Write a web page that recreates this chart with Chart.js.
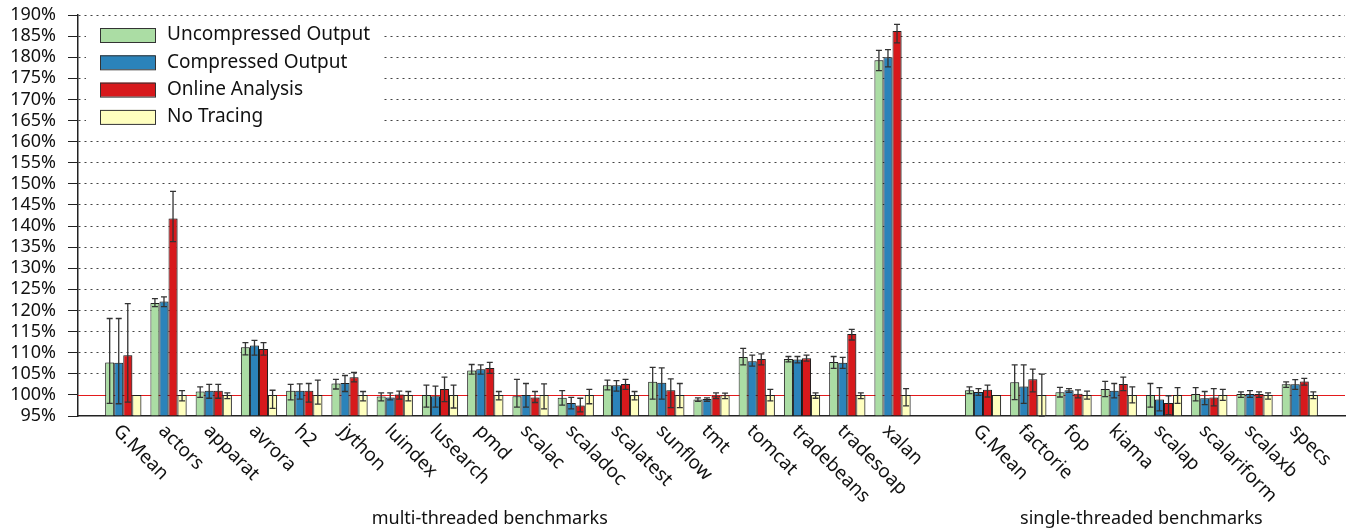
<!DOCTYPE html>
<html>
<head>
<meta charset="utf-8">
<script src="https://cdn.jsdelivr.net/npm/chart.js@4.4.0/dist/chart.umd.min.js"></script>
<style>
  html, body { margin: 0; padding: 0; background: #fff; }
  #wrap { width: 1351px; height: 529px; }
</style>
</head>
<body>
<div id="wrap"><canvas id="myChart"></canvas></div>
<script>
// Benchmarks (order of every value array: multi-threaded first, then single-threaded)
const multiNames = ['G.Mean', 'actors', 'apparat', 'avrora', 'h2', 'jython', 'luindex', 'lusearch', 'pmd',
  'scalac', 'scaladoc', 'scalatest', 'sunflow', 'tmt', 'tomcat', 'tradebeans', 'tradesoap', 'xalan'];
const singleNames = ['G.Mean', 'factorie', 'fop', 'kiama', 'scalap', 'scalariform', 'scalaxb', 'specs'];
const groupTitles = ['multi-threaded benchmarks', 'single-threaded benchmarks'];
const seriesNames = ['Uncompressed Output', 'Compressed Output', 'Online Analysis', 'No Tracing'];

// relative run time in %
const uncompressed = [107.7, 121.8, 100.8, 111.3, 101.0, 102.7, 99.6, 100.0, 105.8, 99.7, 99.3, 102.3, 103.1, 98.9, 109.0, 108.5, 107.8, 179.3,
  101.1, 103.0, 100.6, 101.4, 100.0, 100.2, 100.2, 102.5];
const compressed = [107.6, 122.1, 101.0, 111.7, 101.0, 102.8, 99.4, 99.7, 106.1, 100.0, 98.1, 102.3, 102.9, 99.0, 108.0, 108.4, 107.6, 180.0,
  100.7, 102.0, 101.1, 101.0, 98.9, 99.2, 100.2, 102.5];
const online = [109.4, 141.8, 101.0, 110.9, 101.0, 104.2, 100.1, 101.4, 106.4, 99.4, 97.5, 102.6, 101.1, 99.8, 108.5, 108.7, 114.4, 186.2,
  101.2, 103.7, 100.3, 102.6, 98.1, 99.4, 100.2, 103.2];
const noTracing = [100, 100, 100, 100, 100, 100, 100, 100, 100, 100, 100, 100, 100, 99.9, 100, 100, 100, 100,
  100, 100, 100, 100, 100, 100, 100, 100];

// error bars [low, high] in %
const uncompressedErr = [[98.0, 118.1], [120.9, 122.8], [99.4, 101.9], [109.5, 112.4], [98.8, 102.5], [101.4, 103.7], [98.6, 100.5], [97.1, 102.3], [104.9, 107.2],
  [97.1, 103.7], [97.6, 101.0], [101.2, 103.5], [99.0, 106.5], [98.5, 99.3], [107.1, 111.0], [107.8, 109.1], [106.3, 109.1], [176.8, 181.6],
  [100.3, 101.9], [98.9, 107.1], [99.5, 101.8], [99.6, 103.2], [97.1, 102.7], [98.6, 101.7], [99.4, 100.7], [101.8, 103.1]];
const compressedErr = [[97.9, 118.1], [120.9, 123.2], [99.2, 102.5], [109.4, 112.9], [99.0, 102.6], [100.8, 104.6], [98.8, 100.5], [97.1, 102.1], [104.9, 107.1],
  [97.1, 102.7], [96.7, 99.4], [100.9, 103.4], [99.0, 106.4], [98.5, 99.3], [106.8, 109.4], [107.6, 109.1], [106.3, 108.9], [177.7, 181.8],
  [99.9, 101.5], [98.0, 107.1], [100.6, 101.5], [99.3, 102.7], [96.2, 101.7], [97.7, 100.8], [99.4, 101.0], [101.3, 103.6]];
const onlineErr = [[98.3, 121.6], [136.3, 148.2], [99.2, 102.5], [109.4, 112.4], [98.3, 102.7], [103.1, 105.3], [99.0, 100.9], [98.4, 104.2], [105.1, 107.7],
  [98.2, 100.8], [96.0, 99.2], [101.3, 103.7], [97.0, 103.8], [99.1, 100.5], [107.1, 109.7], [108.0, 109.4], [113.0, 115.5], [183.4, 187.8],
  [99.5, 102.3], [100.7, 106.1], [99.3, 101.2], [101.0, 104.2], [95.3, 99.8], [97.4, 101.5], [99.4, 100.7], [102.3, 103.9]];
const noTracingErr = [[100, 100], [98.6, 101.0], [99.1, 100.5], [96.8, 101.1], [97.8, 103.5], [98.6, 100.8], [98.6, 100.8], [96.9, 102.3], [98.8, 100.8],
  [96.7, 102.6], [97.9, 101.3], [98.8, 100.8], [97.0, 102.7], [99.1, 100.4], [98.6, 101.3], [99.2, 100.5], [99.1, 100.5], [97.4, 101.5],
  [100, 100], [95.0, 104.9], [99.0, 100.9], [98.1, 101.9], [98.0, 101.7], [98.7, 101.3], [99.0, 100.5], [99.1, 100.7]];

const colors = ['#abdda4', '#2b83ba', '#d7191c', '#ffffbf'];

// empty slot before, between and after the two groups
function spread(arr) {
  const n = multiNames.length;
  return [null].concat(arr.slice(0, n), [null], arr.slice(n), [null]);
}

const labels = spread(multiNames.concat(singleNames)).map(v => v === null ? '' : v);
const values = [uncompressed, compressed, online, noTracing];
const errors = [uncompressedErr, compressedErr, onlineErr, noTracingErr];

const FONT = 'Noto Sans';

// Error bars
const errorBars = {
  id: 'errorBars',
  afterDatasetsDraw(chart) {
    const ctx = chart.ctx;
    const y = chart.scales.y;
    ctx.save();
    chart.data.datasets.forEach((ds, i) => {
      const meta = chart.getDatasetMeta(i);
      const err = spread(errors[i]);
      meta.data.forEach((bar, j) => {
        const e = err[j];
        if (!e || e[0] === e[1]) return;
        const y1 = y.getPixelForValue(e[0]);
        const y2 = y.getPixelForValue(e[1]);
        ctx.strokeStyle = '#333';
        ctx.lineWidth = 1.3;
        ctx.beginPath();
        ctx.moveTo(bar.x, y1); ctx.lineTo(bar.x, y2);
        ctx.moveTo(bar.x - 3, y1); ctx.lineTo(bar.x + 3, y1);
        ctx.moveTo(bar.x - 3, y2); ctx.lineTo(bar.x + 3, y2);
        ctx.stroke();
      });
    });
    ctx.restore();
  }
};

// red baseline at 100%, behind the bars
const baseline = {
  id: 'baseline',
  beforeDatasetsDraw(chart) {
    const ctx = chart.ctx;
    const a = chart.chartArea;
    const yy = Math.round(chart.scales.y.getPixelForValue(100)) + 0.5;
    ctx.save();
    ctx.strokeStyle = '#e31a1c';
    ctx.lineWidth = 1;
    ctx.beginPath();
    ctx.moveTo(a.left, yy); ctx.lineTo(a.right, yy);
    ctx.stroke();
    ctx.restore();
  }
};

// bar shadows
const shadows = {
  id: 'shadows',
  beforeDatasetDraw(chart) {
    const ctx = chart.ctx;
    ctx.save();
    ctx.shadowColor = 'rgba(0,0,0,0.3)';
    ctx.shadowBlur = 2;
    ctx.shadowOffsetX = 1.5;
    ctx.shadowOffsetY = 0;
  },
  afterDatasetDraw(chart) {
    chart.ctx.restore();
  }
};

// legend inside the plot, category labels rotated down-right, group titles
const decorations = {
  id: 'decorations',
  afterDraw(chart) {
    const ctx = chart.ctx;
    const x = chart.scales.x;
    const a = chart.chartArea;
    ctx.save();

    // legend
    ctx.fillStyle = '#fff';
    ctx.fillRect(a.left + 8, a.top + 6, 296, 112);
    chart.data.datasets.forEach((ds, i) => {
      const top = a.top + 13 + i * 27.3;
      ctx.fillStyle = ds.backgroundColor;
      ctx.fillRect(a.left + 22, top, 55, 14);
      ctx.strokeStyle = '#333';
      ctx.lineWidth = 1;
      ctx.strokeRect(a.left + 22.5, top + 0.5, 55, 14);
      ctx.fillStyle = '#111';
      ctx.font = '19px "' + FONT + '"';
      ctx.textAlign = 'left';
      ctx.textBaseline = 'middle';
      ctx.fillText(ds.label, a.left + 89, top + 7);
    });

    // category labels
    ctx.fillStyle = '#111';
    ctx.font = '19px "' + FONT + '"';
    ctx.textAlign = 'left';
    ctx.textBaseline = 'middle';
    labels.forEach((lab, i) => {
      if (!lab) return;
      const px = x.getPixelForValue(i);
      ctx.save();
      ctx.translate(px - 7, a.bottom + 12);
      ctx.rotate(Math.PI / 4);
      ctx.fillText(lab, 0, 0);
      ctx.restore();
    });

    // group titles
    ctx.font = '18px "' + FONT + '"';
    ctx.textAlign = 'center';
    ctx.fillText(groupTitles[0], x.getPixelForValue(9.1), a.bottom + 103);
    ctx.fillText(groupTitles[1], x.getPixelForValue(23.5), a.bottom + 103);
    ctx.restore();
  }
};

const ctx = document.getElementById('myChart').getContext('2d');
const chart = new Chart(ctx, {
  type: 'bar',
  data: {
    labels: labels,
    datasets: seriesNames.map((name, i) => ({
      label: name,
      data: spread(values[i]),
      backgroundColor: colors[i],
      borderColor: '#222',
      borderWidth: 1,
      base: 95,
      categoryPercentage: 0.8,
      barPercentage: 1.0,
    })),
  },
  options: {
    responsive: true,
    maintainAspectRatio: false,
    animation: false,
    layout: { padding: { left: 8, right: 6, top: 15, bottom: 0 } },
    plugins: {
      legend: { display: false },
      tooltip: { enabled: false },
    },
    scales: {
      x: {
        type: 'category',
        offset: false,
        grid: { display: false, drawTicks: false },
        border: { display: true, color: '#222', width: 1.5 },
        ticks: { display: false },
        afterFit(scale) { scale.height = 113; },
      },
      y: {
        min: 95,
        max: 190,
        ticks: {
          stepSize: 5,
          autoSkip: false,
          padding: 12,
          color: '#111',
          font: { family: FONT, size: 18 },
          callback: v => v + '%',
        },
        grid: {
          color: c => (c.tick && (c.tick.value === 95 || c.tick.value === 100)) ? 'rgba(0,0,0,0)' : '#444',
          tickColor: '#222',
          tickLength: 10,
          tickBorderDash: [],
          lineWidth: 1,
        },
        border: { display: true, color: '#222', width: 1.5, dash: [2, 4] },
        afterFit(scale) {
          scale.width = 70;
          scale.paddingTop = 0;
          scale.paddingBottom = 0;
        },
      },
    },
  },
  plugins: [baseline, shadows, errorBars, decorations],
});
</script>
</body>
</html>
